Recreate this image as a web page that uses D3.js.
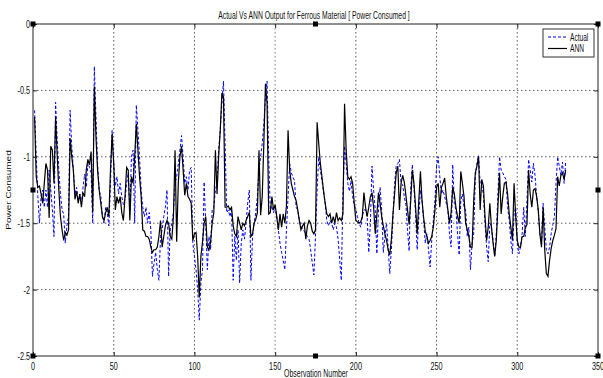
<!DOCTYPE html>
<html>
<head>
<meta charset="utf-8">
<script src="https://cdn.jsdelivr.net/npm/d3@7"></script>
<style>
  html, body { margin: 0; padding: 0; background: #fff; }
  svg { display: block; font-family: "Liberation Sans", Arial, sans-serif; }
</style>
</head>
<body>
<div id="chart"></div>
<script>
// observation index 1..330
const observations = d3.range(1, 331);

// Actual (blue dashed)
const actual = [
  -0.65,-1.00,-1.30,-1.50,-1.30,-1.25,-1.38,-1.25,-1.38,-1.10,
  -1.25,-1.40,-1.60,-0.59,-0.88,-1.10,-1.28,-1.40,-1.43,-1.65,
  -1.52,-1.45,-0.65,-0.92,-1.10,-1.28,-1.23,-1.33,-1.28,-1.35,
  -1.23,-1.13,-1.23,-1.05,-1.08,-1.12,-1.50,-0.32,-0.70,-1.05,
  -1.25,-1.30,-1.45,-1.50,-1.38,-1.42,-1.52,-1.20,-0.80,-1.05,
  -1.22,-1.15,-1.28,-1.20,-1.30,-1.36,-1.32,-1.20,-1.12,-1.40,
  -1.00,-0.95,-1.50,-0.61,-0.80,-1.00,-1.25,-1.38,-1.45,-1.38,
  -1.50,-1.42,-1.55,-1.90,-1.80,-1.72,-1.85,-1.93,-1.60,-1.55,
  -1.45,-1.38,-1.25,-1.90,-1.55,-1.50,-1.42,-1.20,-1.15,-1.05,
  -0.95,-0.84,-1.00,-1.20,-1.15,-1.25,-1.10,-1.08,-1.65,-1.75,
  -1.85,-2.00,-2.23,-1.95,-1.85,-1.19,-1.50,-1.85,-1.60,-1.70,
  -1.40,-1.38,-1.25,-1.20,-0.95,-0.80,-0.60,-0.43,-0.90,-1.42,
  -1.40,-1.45,-1.40,-1.93,-1.60,-1.78,-1.55,-1.95,-1.65,-1.55,
  -1.62,-1.50,-1.35,-1.25,-1.93,-1.60,-1.50,-1.42,-1.30,-1.10,
  -1.00,-0.90,-0.75,-0.55,-0.43,-1.00,-1.40,-1.37,-1.42,-1.38,
  -1.45,-1.55,-1.65,-1.72,-1.78,-1.85,-1.55,-1.30,-1.05,-1.12,
  -1.15,-1.18,-1.38,-1.40,-1.48,-1.52,-1.55,-1.56,-1.58,-1.60,
  -1.62,-1.70,-1.80,-1.89,-1.60,-1.25,-1.00,-1.10,-1.18,-1.26,
  -1.35,-1.48,-1.52,-1.48,-1.50,-1.55,-1.50,-1.53,-1.62,-1.78,
  -1.93,-1.28,-0.92,-1.05,-1.20,-1.26,-1.18,-1.30,-1.36,-1.40,
  -1.45,-1.50,-1.53,-1.45,-1.40,-1.40,-1.45,-1.72,-1.50,-1.07,
  -1.25,-1.40,-1.73,-1.40,-1.23,-1.40,-1.72,-1.60,-1.50,-1.68,
  -1.88,-1.70,-1.45,-1.20,-1.07,-1.05,-1.02,-1.20,-1.21,-1.30,
  -1.36,-1.55,-1.71,-1.23,-1.06,-1.23,-1.43,-1.70,-1.45,-1.25,
  -1.33,-1.48,-1.65,-1.58,-1.70,-1.83,-1.63,-1.48,-1.33,-1.07,
  -1.00,-1.15,-1.28,-1.25,-1.30,-1.35,-1.40,-1.58,-1.68,-1.06,
  -1.35,-1.40,-1.58,-1.74,-1.33,-1.28,-1.38,-1.40,-1.60,-1.53,
  -1.85,-1.65,-1.58,-1.15,-1.05,-0.99,-1.20,-1.22,-1.28,-1.50,
  -1.68,-1.79,-1.50,-1.53,-1.63,-1.75,-1.58,-1.28,-1.00,-1.10,
  -1.12,-1.15,-1.17,-1.38,-1.48,-1.63,-1.73,-1.43,-1.38,-1.65,
  -1.73,-1.68,-1.58,-1.38,-1.60,-1.33,-1.02,-1.10,-1.19,-1.05,
  -1.14,-1.30,-1.41,-1.58,-1.65,-1.35,-1.53,-1.70,-1.73,-1.68,
  -1.58,-1.51,-1.45,-1.20,-1.00,-1.07,-1.14,-1.04,-1.20,-1.03
];

// ANN output (black solid)
const ann = [
  -0.70,-1.15,-1.23,-1.22,-1.28,-1.35,-1.20,-1.05,-1.10,-1.46,
  -0.92,-0.95,-1.20,-0.70,-0.99,-1.25,-1.45,-1.55,-1.63,-1.57,
  -1.59,-1.55,-0.86,-1.00,-1.10,-1.32,-1.26,-1.35,-1.28,-1.38,
  -1.27,-1.30,-1.10,-1.02,-1.06,-0.96,-1.42,-0.47,-0.85,-1.10,
  -1.25,-1.35,-1.45,-1.48,-1.42,-1.38,-1.45,-1.10,-0.83,-1.05,
  -1.40,-1.30,-1.35,-1.30,-1.42,-1.48,-1.30,-1.08,-1.10,-1.48,
  -1.15,-1.20,-1.00,-0.75,-0.95,-1.15,-1.30,-1.55,-1.56,-1.60,
  -1.60,-1.62,-1.68,-1.72,-1.70,-1.70,-1.68,-1.60,-1.48,-1.68,
  -1.60,-1.52,-1.48,-1.50,-1.60,-1.62,-1.45,-0.95,-1.64,-1.20,
  -1.00,-0.92,-1.10,-1.29,-1.20,-1.30,-1.32,-1.35,-1.63,-1.58,
  -1.57,-1.75,-2.06,-1.75,-1.64,-1.50,-1.45,-1.68,-1.70,-1.64,
  -1.50,-1.42,-0.95,-1.28,-1.00,-0.80,-0.52,-0.55,-1.38,-1.38,
  -1.37,-1.40,-1.38,-1.52,-1.58,-1.60,-1.45,-1.50,-1.55,-1.50,
  -1.52,-1.48,-1.45,-1.42,-1.60,-1.58,-1.50,-1.47,-1.42,-0.95,
  -1.44,-1.30,-0.90,-0.45,-0.60,-1.43,-1.42,-1.30,-1.40,-1.36,
  -1.45,-1.55,-1.43,-1.53,-1.43,-1.50,-1.37,-0.80,-1.10,-1.20,
  -1.25,-1.30,-1.33,-1.40,-1.48,-1.55,-1.52,-1.50,-1.62,-1.52,
  -1.48,-1.50,-1.56,-1.58,-1.55,-0.74,-0.90,-1.05,-1.15,-1.26,
  -1.35,-1.43,-1.45,-1.43,-1.50,-1.45,-1.50,-1.42,-1.48,-1.46,
  -1.48,-1.43,-0.60,-0.95,-1.15,-1.17,-1.15,-1.20,-1.35,-1.48,
  -1.49,-1.50,-1.49,-1.45,-1.27,-1.38,-1.45,-1.38,-1.30,-1.27,
  -1.38,-1.58,-1.44,-1.27,-1.35,-1.45,-1.52,-1.58,-1.63,-1.70,
  -1.74,-1.62,-1.43,-1.28,-1.12,-1.07,-1.40,-1.20,-1.14,-1.19,
  -1.29,-1.40,-1.51,-1.33,-1.10,-1.20,-1.38,-1.58,-1.33,-1.11,
  -1.33,-1.46,-1.56,-1.60,-1.65,-1.63,-1.60,-1.53,-1.40,-1.23,
  -1.20,-1.38,-1.23,-1.20,-1.16,-1.30,-1.40,-1.50,-1.42,-1.23,
  -1.28,-1.38,-1.45,-1.50,-1.11,-1.20,-1.30,-1.50,-1.55,-1.60,
  -1.68,-1.68,-1.33,-1.12,-1.07,-1.00,-1.40,-1.17,-1.22,-1.45,
  -1.63,-1.53,-1.35,-1.53,-1.65,-1.75,-1.63,-1.38,-1.12,-1.43,
  -1.30,-1.20,-1.19,-1.28,-1.43,-1.53,-1.63,-1.20,-1.45,-1.63,
  -1.68,-1.68,-1.60,-1.60,-1.53,-1.51,-1.10,-1.28,-1.38,-1.25,
  -1.24,-1.30,-1.40,-1.58,-1.68,-1.38,-1.70,-1.88,-1.90,-1.78,
  -1.69,-1.63,-1.59,-1.54,-1.15,-1.22,-1.14,-1.12,-1.17,-1.10
];

const xTicks = [0, 50, 100, 150, 200, 250, 300, 350];
const yTicks = [0, -0.5, -1, -1.5, -2, -2.5];
const yTickLabels = ["0", "-0.5", "-1", "-1.5", "-2", "-2.5"];
const seriesNames = ["Actual", "ANN"];
const seriesColors = ["#0000ff", "#000000"];

const titleText = "Actual Vs ANN Output for Ferrous Material [ Power Consumed ]";
const xLabelText = "Observation Number";
const yLabelText = "Power Consumed";

const width = 603, height = 378;
const sx = 0.66; // picture is squeezed horizontally, so is its text

const x = d3.scaleLinear().domain([0, 350]).range([33, 598]);
const y = d3.scaleLinear().domain([-2.5, 0]).range([356, 24]);

const svg = d3.select("#chart").append("svg")
    .attr("width", width)
    .attr("height", height);

svg.append("rect").attr("width", width).attr("height", height).attr("fill", "#fff");

// grid
svg.append("g").selectAll("line")
    .data(xTicks.slice(1, -1))
    .join("line")
    .attr("x1", d => x(d)).attr("x2", d => x(d))
    .attr("y1", y(0)).attr("y2", y(-2.5))
    .attr("stroke", d => d === 150 ? "#9a9a9a" : "#333")
    .attr("stroke-width", d => d === 150 ? 1.2 : 0.8)
    .attr("stroke-dasharray", "1.5,2.5");

svg.append("g").selectAll("line")
    .data(yTicks.slice(1, -1))
    .join("line")
    .attr("x1", x(0)).attr("x2", x(350))
    .attr("y1", d => y(d)).attr("y2", d => y(d))
    .attr("stroke", "#333")
    .attr("stroke-width", 0.8)
    .attr("stroke-dasharray", "1.5,2.5");

// plot lines
svg.append("clipPath").attr("id", "plot-clip")
  .append("rect")
    .attr("x", x(0)).attr("y", y(0))
    .attr("width", x(350) - x(0)).attr("height", y(-2.5) - y(0));

const line = d3.line()
    .x((d, i) => x(observations[i]))
    .y(d => y(d));

const plot = svg.append("g").attr("clip-path", "url(#plot-clip)");

plot.append("path")
    .datum(actual)
    .attr("d", line)
    .attr("fill", "none")
    .attr("stroke", seriesColors[0])
    .attr("stroke-width", 1)
    .attr("stroke-dasharray", "3,2");

plot.append("path")
    .datum(ann)
    .attr("d", line)
    .attr("fill", "none")
    .attr("stroke", seriesColors[1])
    .attr("stroke-width", 1.2);

// ticks (inside, all four sides)
const axisStyle = g => {
    g.select(".domain").remove();
    g.selectAll(".tick line").attr("stroke", "#222");
};
svg.append("g").attr("transform", `translate(0,${y(-2.5)})`)
    .call(d3.axisBottom(x).tickValues(xTicks).tickSize(-4).tickSizeOuter(0).tickFormat(""))
    .call(axisStyle);
svg.append("g").attr("transform", `translate(0,${y(0)})`)
    .call(d3.axisTop(x).tickValues(xTicks).tickSize(-4).tickSizeOuter(0).tickFormat(""))
    .call(axisStyle);
svg.append("g").attr("transform", `translate(${x(0)},0)`)
    .call(d3.axisLeft(y).tickValues(yTicks).tickSize(-4).tickSizeOuter(0).tickFormat(""))
    .call(axisStyle);
svg.append("g").attr("transform", `translate(${x(350)},0)`)
    .call(d3.axisRight(y).tickValues(yTicks).tickSize(-4).tickSizeOuter(0).tickFormat(""))
    .call(axisStyle);

// box
svg.append("rect")
    .attr("x", x(0)).attr("y", y(0))
    .attr("width", x(350) - x(0)).attr("height", y(-2.5) - y(0))
    .attr("fill", "none")
    .attr("stroke", "#222")
    .attr("stroke-width", 1);

// squeezed text helper
function label(px, py, txt, size, anchor) {
    return svg.append("g")
        .attr("transform", `translate(${px},${py}) scale(${sx},1)`)
      .append("text")
        .attr("text-anchor", anchor || "middle")
        .attr("font-size", size)
        .attr("fill", "#111")
        .text(txt);
}

xTicks.forEach(d => label(x(d), 370, d, 11));
yTicks.forEach((d, i) => label(x(0) - 3, y(d) + 4, yTickLabels[i], 11, "end"));

label(314, 19, titleText, 10.3);
label(316, 376.5, xLabelText, 10.5);

svg.append("g")
    .attr("transform", `translate(11,190) scale(${sx},1) rotate(-90)`)
  .append("text")
    .attr("text-anchor", "middle")
    .attr("font-size", 10)
    .attr("fill", "#111")
    .text(yLabelText);

// legend
const lg = svg.append("g").attr("transform", "translate(543,29)");
lg.append("rect")
    .attr("width", 51).attr("height", 28)
    .attr("fill", "#fff")
    .attr("stroke", "#333")
    .attr("stroke-width", 1);
seriesNames.forEach((name, i) => {
    const ly = 8 + i * 11.5;
    lg.append("line")
        .attr("x1", 5).attr("x2", 24)
        .attr("y1", ly).attr("y2", ly)
        .attr("stroke", seriesColors[i])
        .attr("stroke-width", i === 0 ? 1 : 1.2)
        .attr("stroke-dasharray", i === 0 ? "3,2" : null);
    lg.append("g")
        .attr("transform", `translate(27,${ly + 3.5}) scale(${sx},1)`)
      .append("text")
        .attr("font-size", 10)
        .attr("fill", "#111")
        .text(name);
});

// selection handles from the figure editor
const handleX = [x(0), (x(0) + x(350)) / 2, x(350)];
const handleY = [y(0), (y(0) + y(-2.5)) / 2, y(-2.5)];
const handles = [];
handleX.forEach((hx, i) => handleY.forEach((hy, j) => {
    if (!(i === 1 && j === 1)) handles.push([hx, hy]);
}));
svg.append("g").selectAll("rect")
    .data(handles)
    .join("rect")
    .attr("x", d => d[0] - 2.5).attr("y", d => d[1] - 2.5)
    .attr("width", 5).attr("height", 5)
    .attr("fill", "#000");
</script>
</body>
</html>
